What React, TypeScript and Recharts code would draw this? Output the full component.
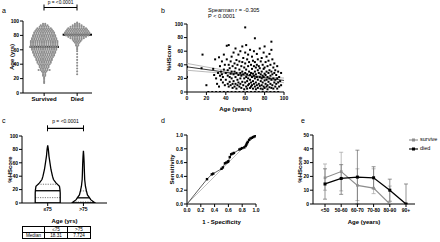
import { ErrorBar, Line, LineChart, ReferenceLine, Scatter, ScatterChart, XAxis, YAxis } from "recharts";

const FONT = '"Liberation Sans", Arial, Helvetica, sans-serif';
const GREY = "#8d8d8d";

// a: age by outcome, patients per 2-year bin
const ageBins = [14, 16, 18, 20, 22, 24, 26, 28, 30, 32, 34, 36, 38, 40, 42, 44, 46, 48, 50, 52, 54, 56, 58, 60, 62, 64, 66, 68, 70, 72, 74, 76, 78, 80, 82, 84, 86, 88, 90, 92, 94, 96, 98];
const survivedCounts = [1, 1, 1, 1, 1, 2, 2, 2, 3, 6, 4, 5, 5, 6, 7, 7, 8, 8, 9, 10, 10, 11, 11, 12, 12, 13, 13, 13, 13, 13, 12, 12, 11, 11, 10, 10, 9, 8, 7, 5, 4, 2, 0];
const diedCounts = [0, 0, 0, 0, 0, 0, 1, 0, 1, 0, 1, 0, 1, 0, 1, 0, 1, 0, 1, 0, 1, 0, 1, 1, 1, 1, 2, 2, 3, 4, 5, 7, 9, 11, 12, 12, 11, 10, 9, 7, 5, 3, 1];
const outcomeGroups = ["Survived", "Died"];
const outcomeMedians = [64, 81];

// b: %HScore vs age
const hscoreByAge: [number, number][] = [
  [0, 37], [0, 22], [15, 35], [16, 55], [20, 10], [27, 34], [28, 25], [29, 48], [30, 20], [31, 12], [32, 28], [33, 51], [33, 8], [34, 38], [34, 24], [35, 30], [35, 18],
  [36, 45], [36, 26], [37, 22], [37, 14], [38, 33], [38, 55], [39, 10], [39, 40], [40, 28], [40, 18], [41, 48], [41, 68], [42, 32], [42, 24], [42, 12], [43, 69], [43, 40], [43, 8], [44, 22], [44, 35], [44, 15], [45, 45], [45, 27], [45, 10],
  [46, 52], [46, 30], [46, 20], [47, 38], [47, 12], [47, 6], [48, 58], [48, 26], [48, 16], [49, 42], [49, 30], [49, 8], [50, 64], [50, 35], [50, 22], [50, 12], [51, 47], [51, 28], [51, 5], [52, 40], [52, 18], [52, 10], [53, 55], [53, 25], [53, 14], [54, 33], [54, 45], [54, 8], [55, 60], [55, 28], [55, 20], [55, 12],
  [56, 38], [56, 24], [56, 6], [57, 67], [57, 44], [57, 30], [57, 15], [58, 50], [58, 26], [58, 10], [59, 36], [59, 20], [59, 4], [60, 95], [60, 58], [60, 42], [60, 28], [60, 14], [61, 69], [61, 33], [61, 22], [61, 8], [62, 48], [62, 26], [62, 16], [62, 5], [63, 55], [63, 38], [63, 20], [63, 10], [64, 44], [64, 30], [64, 12], [65, 62], [65, 25], [65, 18], [65, 6],
  [66, 40], [66, 28], [66, 14], [66, 8], [67, 52], [67, 34], [67, 22], [67, 10], [68, 46], [68, 27], [68, 16], [68, 5], [69, 60], [69, 38], [69, 24], [69, 12], [70, 79], [70, 44], [70, 30], [70, 20], [70, 8], [71, 36], [71, 26], [71, 14], [71, 4], [72, 56], [72, 40], [72, 22], [72, 10], [73, 48], [73, 32], [73, 18], [73, 6], [74, 28], [74, 38], [74, 12], [75, 64], [75, 35], [75, 22], [75, 9],
  [76, 45], [76, 26], [76, 16], [76, 5], [77, 50], [77, 30], [77, 20], [77, 10], [78, 40], [78, 24], [78, 14], [78, 4], [79, 58], [79, 34], [79, 22], [79, 8], [80, 67], [80, 36], [80, 27], [80, 17], [80, 6], [81, 44], [81, 25], [81, 12], [82, 52], [82, 30], [82, 18], [82, 8], [83, 38], [83, 22], [83, 10], [83, 4], [84, 46], [84, 28], [84, 15], [85, 56], [85, 32], [85, 20], [85, 7],
  [86, 40], [86, 24], [86, 12], [87, 74], [87, 62], [87, 30], [87, 18], [87, 6], [88, 48], [88, 26], [88, 10], [89, 36], [89, 20], [89, 5], [90, 42], [90, 28], [90, 14], [91, 32], [91, 18], [91, 8], [92, 25], [92, 12], [93, 38], [93, 20], [93, 5], [94, 30], [94, 14], [95, 22], [95, 8], [96, 16], [97, 28], [97, 10],
  [22, 0], [26, 0], [30, 0], [34, 0], [38, 0], [42, 0], [46, 0], [50, 0], [54, 0], [58, 0], [62, 0], [66, 0], [70, 0], [74, 0], [78, 0], [82, 0], [86, 0], [90, 0], [94, 0],
];
const fitAges = [0, 100];
const fitScores = [37, 17];
const ciAges = [0, 25, 50, 68, 85, 100];
const ciUpper = [42, 35.5, 29.5, 25, 22, 20.5];
const ciLower = [32, 29, 25.5, 22, 18, 13.5];

// c: violin of %HScore by age class
const ageClasses = ["≤75", ">75"];
const youngLevels = [0, 5, 10, 15, 20, 25, 30, 35, 40, 50, 60, 70, 80, 86];
const youngDensity = [1, 1, 1, 1, 0.98, 0.94, 0.66, 0.46, 0.38, 0.26, 0.18, 0.1, 0.05, 0];
const oldLevels = [0, 2, 5, 8, 12, 18, 25, 35, 45, 60, 70, 78];
const oldDensity = [0.94, 0.8, 0.58, 0.48, 0.32, 0.24, 0.16, 0.1, 0.08, 0.056, 0.03, 0];
const classMedians = [18.31, 7.724];
const classQ1 = [8, 1.5];
const classQ3 = [28, 18];
const tableHeader = ["", "≤75", ">75"];
const tableRow = ["Median", "18.31", "7.724"];

// d: ROC
const rocFpr = [0, 0.29, 0.36, 0.38, 0.5, 0.52, 0.55, 0.57, 0.59, 0.6, 0.62, 0.64, 0.66, 0.68, 0.76, 0.78, 0.8, 0.83, 0.85, 0.86, 0.87, 0.88, 0.9, 0.92, 0.94, 0.96, 0.98, 1.0];
const rocTpr = [0, 0.36, 0.43, 0.44, 0.51, 0.53, 0.59, 0.6, 0.61, 0.62, 0.68, 0.72, 0.73, 0.74, 0.79, 0.8, 0.81, 0.82, 0.84, 0.86, 0.88, 0.9, 0.93, 0.95, 0.96, 0.97, 0.98, 1.0];

// e: %HScore by age group and outcome
const ageGroups = ["<50", "50-60", "60-70", "70-80", "80-90", "90+"];
const surviveMean = [19, 23.5, 13.5, 11.5, 0, null];
const surviveLower = [10, 9.5, 2.5, 7.5, 0, null];
const surviveUpper = [29, 37.5, 25.5, 25.5, 13, null];
const diedMean = [14.5, 18.5, 19.5, 19, 10, 0];
const diedLower = [3.5, 7, 0, 11, 2, 0];
const diedUpper = [25.5, 28.5, 39, 27, 18, 14.5];

const axisLine = { stroke: "#000", strokeWidth: 1 };
const tickLine = { stroke: "#000", strokeWidth: 1 };
const tickFont = { fontSize: 5, fontWeight: 700, fill: "#000" };
const titleFont = { fontSize: 6, fontWeight: 700, fill: "#000", textAnchor: "middle" as const };

const SWARM_STEP = 0.067;
const VIOLIN_HALF = 0.35;

function swarmPoints(counts: number[], centre: number) {
  const pts: { x: number; y: number }[] = [];
  counts.forEach((n, i) => {
    for (let k = 0; k < n; k++) pts.push({ x: centre + (k - (n - 1) / 2) * SWARM_STEP, y: ageBins[i] });
  });
  return pts;
}

function violinOutline(levels: number[], density: number[], centre: number) {
  const left = levels.map((y, i) => ({ x: centre - density[i] * VIOLIN_HALF, y }));
  const right = levels.map((y, i) => ({ x: centre + density[i] * VIOLIN_HALF, y })).reverse();
  return [...left, ...right, left[0]];
}

function halfWidthAt(levels: number[], density: number[], y: number) {
  for (let i = 0; i < levels.length - 1; i++) {
    if (y >= levels[i] && y <= levels[i + 1]) {
      const t = (y - levels[i]) / (levels[i + 1] - levels[i]);
      return (density[i] + t * (density[i + 1] - density[i])) * VIOLIN_HALF;
    }
  }
  return 0;
}

const noShape = () => <g />;

function Txt({ x, y, size, children, middle, bold }: { x: number; y: number; size: number; children: React.ReactNode; middle?: boolean; bold?: boolean }) {
  return (
    <div style={{ position: "absolute", left: x, top: y - size / 2, fontSize: size, lineHeight: 1, whiteSpace: "nowrap", fontWeight: bold ? 700 : 400, transform: middle ? "translateX(-50%)" : undefined }}>
      {children}
    </div>
  );
}

function Bracket({ x1, x2, y }: { x1: number; x2: number; y: number }) {
  return (
    <svg style={{ position: "absolute", left: 0, top: 0, overflow: "visible" }} width={1} height={1}>
      <line x1={x1} x2={x2} y1={y} y2={y} stroke="#000" strokeWidth={1.2} />
      <line x1={x1} x2={x1} y1={y - 3} y2={y + 3} stroke="#000" strokeWidth={1} />
      <line x1={x2} x2={x2} y1={y - 3} y2={y + 3} stroke="#000" strokeWidth={1} />
    </svg>
  );
}

function PanelA() {
  const survived = swarmPoints(survivedCounts, 1);
  const died = swarmPoints(diedCounts, 2);
  return (
    <ScatterChart width={100} height={115} margin={{ top: 21, right: 8, bottom: 8, left: 0 }}>
      <XAxis type="number" dataKey="x" domain={[0.36, 2.45]} allowDataOverflow ticks={[1, 2]} interval={0} tickFormatter={(v) => outcomeGroups[v - 1]} height={14} tick={{ ...tickFont, fontSize: 6 }} tickSize={3} tickMargin={1} axisLine={axisLine} tickLine={tickLine} />
      <YAxis type="number" dataKey="y" domain={[0, 100]} allowDataOverflow ticks={[0, 20, 40, 60, 80, 100]} interval={0} width={23} tick={tickFont} tickSize={3} tickMargin={1} axisLine={axisLine} tickLine={tickLine}
        label={{ value: "Age (yrs)", angle: -90, position: "insideLeft", offset: 12, style: titleFont }} />
      <Scatter data={survived} isAnimationActive={false} shape={(p: any) => <circle cx={p.cx} cy={p.cy} r={1.05} fill={GREY} />} />
      <Scatter data={died} isAnimationActive={false} shape={(p: any) => <circle cx={p.cx} cy={p.cy} r={1.05} fill={GREY} />} />
      {outcomeMedians.map((m, i) => (
        <ReferenceLine key={i} segment={[{ x: i + 1 - 0.44, y: m }, { x: i + 1 + 0.45, y: m }]} stroke="#000" strokeWidth={2} ifOverflow="visible" />
      ))}
    </ScatterChart>
  );
}

function PanelB() {
  const points = hscoreByAge.map(([x, y]) => ({ x, y }));
  const fit = fitAges.map((x, i) => ({ x, y: fitScores[i] }));
  const upper = ciAges.map((x, i) => ({ x, y: ciUpper[i] }));
  const lower = ciAges.map((x, i) => ({ x, y: ciLower[i] }));
  return (
    <ScatterChart width={145} height={115} margin={{ top: 24, right: 11, bottom: 3, left: 0 }}>
      <XAxis type="number" dataKey="x" domain={[0, 100]} allowDataOverflow ticks={[0, 20, 40, 60, 80, 100]} interval={0} height={20} tick={tickFont} tickSize={3} tickMargin={1} axisLine={axisLine} tickLine={tickLine}
        label={{ value: "Age (years)", position: "insideBottom", offset: 1, style: titleFont }} />
      <YAxis type="number" dataKey="y" domain={[0, 100]} allowDataOverflow ticks={[0, 20, 40, 60, 80, 100]} interval={0} width={37} tick={tickFont} tickSize={3} tickMargin={1} axisLine={axisLine} tickLine={tickLine}
        label={{ value: "%HScore", angle: -90, position: "insideLeft", offset: 19, style: titleFont }} />
      <Scatter data={upper} isAnimationActive={false} shape={noShape} line={{ stroke: "#a8a8a8", strokeWidth: 0.8 }} />
      <Scatter data={lower} isAnimationActive={false} shape={noShape} line={{ stroke: "#a8a8a8", strokeWidth: 0.8 }} />
      <Scatter data={fit} isAnimationActive={false} shape={noShape} line={{ stroke: "#222", strokeWidth: 0.9 }} />
      <Scatter data={points} isAnimationActive={false} shape={(p: any) => <rect x={p.cx - 1} y={p.cy - 1} width={2} height={2} fill="#000" />} />
    </ScatterChart>
  );
}

function PanelC() {
  const shapes = [violinOutline(youngLevels, youngDensity, 1), violinOutline(oldLevels, oldDensity, 2)];
  const dens = [[youngLevels, youngDensity], [oldLevels, oldDensity]];
  const seg = (i: number, y: number) => {
    const hw = halfWidthAt(dens[i][0], dens[i][1], y);
    return [{ x: i + 1 - hw, y }, { x: i + 1 + hw, y }];
  };
  return (
    <ScatterChart width={115} height={110} margin={{ top: 21, right: 8, bottom: 0, left: 0 }}>
      <XAxis type="number" dataKey="x" domain={[0.28, 2.66]} allowDataOverflow ticks={[1, 2]} interval={0} tickFormatter={(v) => ageClasses[v - 1]} height={22} tick={tickFont} tickSize={3} tickMargin={1} axisLine={axisLine} tickLine={tickLine}
        label={{ value: "Age (yrs)", position: "insideBottom", offset: 2.5, style: titleFont }} />
      <YAxis type="number" dataKey="y" domain={[0, 100]} allowDataOverflow ticks={[0, 20, 40, 60, 80, 100]} interval={0} width={22} tick={tickFont} tickSize={3} tickMargin={1} axisLine={axisLine} tickLine={tickLine}
        label={{ value: "%HScore", angle: -90, position: "insideLeft", offset: 10, style: titleFont }} />
      {shapes.map((s, i) => (
        <Scatter key={i} data={s} isAnimationActive={false} shape={noShape} line={{ stroke: "#000", strokeWidth: 1.3 }} />
      ))}
      {classMedians.map((m, i) => (
        <ReferenceLine key={"m" + i} segment={seg(i, m)} stroke="#000" strokeWidth={1.3} />
      ))}
      {classQ1.map((q, i) => (
        <ReferenceLine key={"q1" + i} segment={seg(i, q)} stroke="#555" strokeWidth={0.8} strokeDasharray="1.2 1.2" />
      ))}
      {classQ3.map((q, i) => (
        <ReferenceLine key={"q3" + i} segment={seg(i, q)} stroke="#555" strokeWidth={0.8} strokeDasharray="1.2 1.2" />
      ))}
    </ScatterChart>
  );
}

function PanelD() {
  const roc = rocFpr.map((x, i) => ({ x, y: rocTpr[i] }));
  const ticks = [0, 0.2, 0.4, 0.6, 0.8, 1];
  return (
    <ScatterChart width={125} height={110} margin={{ top: 20, right: 19, bottom: 0, left: 0 }}>
      <XAxis type="number" dataKey="x" domain={[0, 1]} allowDataOverflow ticks={ticks} interval={0} tickFormatter={(v) => v.toFixed(1)} height={21} tick={tickFont} tickSize={3} tickMargin={1} axisLine={axisLine} tickLine={tickLine}
        label={{ value: "1 - Specificity", position: "insideBottom", offset: 1.5, style: titleFont }} />
      <YAxis type="number" dataKey="y" domain={[0, 1]} allowDataOverflow ticks={ticks} interval={0} tickFormatter={(v) => v.toFixed(1)} width={37} tick={tickFont} tickSize={3} tickMargin={1} axisLine={axisLine} tickLine={tickLine}
        label={{ value: "Sensitivity", angle: -90, position: "insideLeft", offset: 22, style: titleFont }} />
      <ReferenceLine segment={[{ x: 0, y: 0 }, { x: 1, y: 1 }]} stroke="#b0b0b0" strokeWidth={0.8} />
      <Scatter data={roc} isAnimationActive={false} line={{ stroke: "#333", strokeWidth: 0.8 }}
        shape={(p: any) => (p.payload?.x === 0 ? <g /> : <rect x={p.cx - 1.2} y={p.cy - 1.2} width={2.4} height={2.4} fill="#000" />)} />
    </ScatterChart>
  );
}

function PanelE() {
  const rows = ageGroups.map((g, i) => {
    const sm = surviveMean[i];
    return {
      g,
      survive: sm,
      surviveErr: sm == null ? null : [sm - (surviveLower[i] as number), (surviveUpper[i] as number) - sm],
      died: diedMean[i],
      diedErr: [diedMean[i] - diedLower[i], diedUpper[i] - diedMean[i]],
    };
  });
  const square = (fill: string, size: number) => (p: any) =>
    p.cy == null ? <g key={"e" + p.index} /> : <rect key={"s" + p.index} x={p.cx - size / 2} y={p.cy - size / 2} width={size} height={size} fill={fill} />;
  return (
    <LineChart width={135} height={110} data={rows} margin={{ top: 20, right: 10, bottom: 0, left: 0 }}>
      <XAxis dataKey="g" padding={{ left: 12, right: 9 }} interval={0} height={21} tick={tickFont} tickSize={3} tickMargin={1} axisLine={axisLine} tickLine={tickLine}
        label={{ value: "Age (years)", position: "insideBottom", offset: 1.5, style: titleFont }} />
      <YAxis type="number" domain={[0, 50]} allowDataOverflow ticks={[0, 10, 20, 30, 40, 50]} interval={0} width={23} tick={tickFont} tickSize={3} tickMargin={1} axisLine={axisLine} tickLine={tickLine}
        label={{ value: "%HScore", angle: -90, position: "insideLeft", offset: 10, style: titleFont }} />
      <Line dataKey="survive" stroke={GREY} strokeWidth={1.1} isAnimationActive={false} dot={square(GREY, 2.6)} activeDot={false}>
        <ErrorBar dataKey="surviveErr" width={2} stroke="#a0a0a0" strokeWidth={0.7} />
      </Line>
      <Line dataKey="died" stroke="#000" strokeWidth={1.3} isAnimationActive={false} dot={square("#000", 3)} activeDot={false}>
        <ErrorBar dataKey="diedErr" width={2} stroke="#666" strokeWidth={0.7} />
      </Line>
    </LineChart>
  );
}

function LegendE() {
  const items = [
    { label: "survive", color: GREY, y: 140 },
    { label: "died", color: "#000", y: 149 },
  ];
  return (
    <>
      {items.map((it) => (
        <div key={it.label}>
          <svg style={{ position: "absolute", left: 409, top: it.y - 2 }} width={9} height={4}>
            <line x1={0} x2={9} y1={2} y2={2} stroke={it.color} strokeWidth={1.1} />
            <rect x={3} y={0.5} width={3} height={3} fill={it.color} />
          </svg>
          <Txt x={420} y={it.y} size={5.5}>{it.label}</Txt>
        </div>
      ))}
    </>
  );
}

function MedianTable() {
  const widths = [21, 22, 22];
  const rowsOf = [tableHeader, tableRow];
  return (
    <div style={{ position: "absolute", left: 22, top: 226, border: "0.7px solid #000" }}>
      {rowsOf.map((r, ri) => (
        <div key={ri} style={{ display: "flex", borderTop: ri ? "0.7px solid #000" : undefined }}>
          {r.map((c, ci) => (
            <div key={ci} style={{ width: widths[ci], height: 5, fontSize: 4.6, lineHeight: "5px", textAlign: "center", borderLeft: ci ? "0.7px solid #000" : undefined }}>
              {c}
            </div>
          ))}
        </div>
      ))}
    </div>
  );
}

export default function App() {
  return (
    <div style={{ position: "absolute", left: 0, top: 0, width: 440, height: 242, overflow: "hidden", background: "#fff", fontFamily: FONT, color: "#000" }}>
      <div style={{ position: "absolute", left: 0, top: 0 }}><PanelA /></div>
      <div style={{ position: "absolute", left: 150, top: 0 }}><PanelB /></div>
      <div style={{ position: "absolute", left: 0, top: 115 }}><PanelC /></div>
      <div style={{ position: "absolute", left: 150, top: 115 }}><PanelD /></div>
      <div style={{ position: "absolute", left: 290, top: 115 }}><PanelE /></div>

      <Txt x={2} y={10} size={7}>a</Txt>
      <Txt x={161} y={10} size={7}>b</Txt>
      <Txt x={2} y={120} size={7}>c</Txt>
      <Txt x={161} y={120} size={7}>d</Txt>
      <Txt x={301} y={120} size={7}>e</Txt>

      <Bracket x1={44} x2={77} y={7.5} />
      <Txt x={60.5} y={3} size={4.8} middle>p = &lt;0.0001</Txt>
      <Bracket x1={47.5} x2={83.5} y={128.3} />
      <Txt x={65.5} y={121.8} size={5} middle>p = &lt;0.0001</Txt>

      <Txt x={208} y={10.3} size={5.6}>Spearman r = -0.305</Txt>
      <Txt x={208} y={16.8} size={5.6}>P &lt; 0.0001</Txt>

      <LegendE />
      <MedianTable />
    </div>
  );
}
